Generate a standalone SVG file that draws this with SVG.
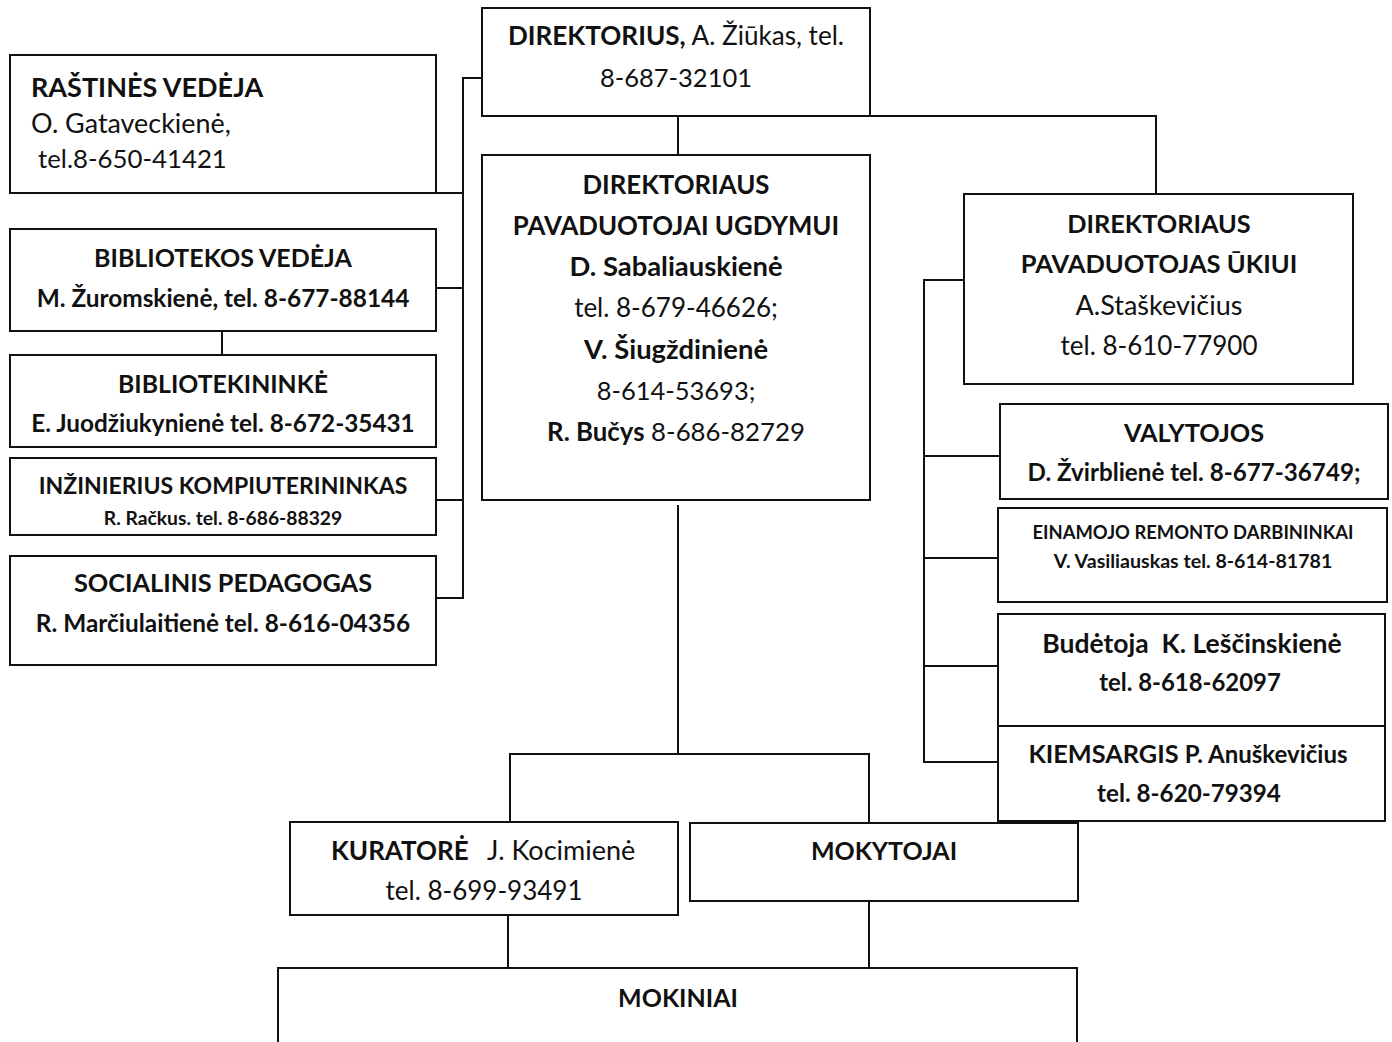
<svg xmlns="http://www.w3.org/2000/svg" width="1392" height="1042" viewBox="0 0 1392 1042">
<style>
text{font-family:Lato,"Liberation Sans",sans-serif;fill:#111;font-size:25px;}
.b{font-weight:bold;}
.c{text-anchor:middle;}
.box{fill:#fff;stroke:#111;stroke-width:2;}
.ln{fill:none;stroke:#111;stroke-width:2;}
</style>
<rect width="1392" height="1042" fill="#fff"/>
<g id="connectors">
<path class="ln" d="M482,78 H463 V598 H436"/>
<path class="ln" d="M436,193 H463 M436,288 H463 M436,500 H463"/>
<path class="ln" d="M222,331 V355"/>
<path class="ln" d="M678,116 V155"/>
<path class="ln" d="M870,116 H1156 V194"/>
<path class="ln" d="M964,280 H924 V762 H998"/>
<path class="ln" d="M924,456 H1000 M924,558 H998 M924,666 H998"/>
<path class="ln" d="M678,505 V754"/>
<path class="ln" d="M510,822 V754 H869 V823"/>
<path class="ln" d="M508,915 V968 M869,901 V968"/>
</g>
<g id="rastines">
<rect class="box" x="10" y="55" width="426" height="138"/>
<text class="b" x="31" y="97" style="font-size:27px">RAŠTINĖS VEDĖJA</text>
<text x="31" y="133" style="font-size:26.9px">O. Gataveckienė,</text>
<text x="38" y="168" style="font-size:25.8px">tel.8-650-41421</text>
</g>
<g id="bibliotekos">
<rect class="box" x="10" y="229" width="426" height="102"/>
<text class="b c" x="223" y="267">BIBLIOTEKOS VEDĖJA</text>
<text class="b c" x="223" y="307" style="font-size:24.4px">M. Žuromskienė, tel. 8-677-88144</text>
</g>
<g id="bibliotekininke">
<rect class="box" x="10" y="355" width="426" height="92"/>
<text class="b c" x="223" y="393" style="font-size:24.8px">BIBLIOTEKININKĖ</text>
<text class="b c" x="223" y="432" style="font-size:24.3px">E. Juodžiukynienė tel. 8-672-35431</text>
</g>
<g id="inzinierius">
<rect class="box" x="10" y="458" width="426" height="77"/>
<text class="b c" x="223" y="494" style="font-size:23px">INŽINIERIUS KOMPIUTERININKAS</text>
<text class="b c" x="223" y="525" style="font-size:19.3px">R. Račkus. tel. 8-686-88329</text>
</g>
<g id="socialinis">
<rect class="box" x="10" y="556" width="426" height="109"/>
<text class="b c" x="223" y="592" style="font-size:25.3px">SOCIALINIS PEDAGOGAS</text>
<text class="b c" x="223" y="632" style="font-size:24.4px">R. Marčiulaitienė tel. 8-616-04356</text>
</g>
<g id="direktorius">
<rect class="box" x="482" y="8" width="388" height="108"/>
<text class="c" x="676" y="45" style="font-size:26.1px"><tspan class="b">DIREKTORIUS,</tspan> A. Žiūkas, tel.</text>
<text class="c" x="676" y="87" style="font-size:25.5px">8-687-32101</text>
</g>
<g id="pavaduotojai-ugdymui">
<rect class="box" x="482" y="155" width="388" height="345"/>
<text class="b c" x="676" y="194" style="font-size:25.8px">DIREKTORIAUS</text>
<text class="b c" x="676" y="235" style="font-size:25.8px">PAVADUOTOJAI UGDYMUI</text>
<text class="b c" x="676" y="276" style="font-size:27.4px">D. Sabaliauskienė</text>
<text class="c" x="676" y="317" style="font-size:26px">tel. 8-679-46626;</text>
<text class="b c" x="676" y="359" style="font-size:27.4px">V. Šiugždinienė</text>
<text class="c" x="676" y="400" style="font-size:25.5px">8-614-53693;</text>
<text class="c" x="676" y="441" style="font-size:25.8px"><tspan class="b">R. Bučys</tspan> 8-686-82729</text>
</g>
<g id="pavaduotojas-ukiui">
<rect class="box" x="964" y="194" width="389" height="190"/>
<text class="b c" x="1159" y="233" style="font-size:25.3px">DIREKTORIAUS</text>
<text class="b c" x="1159" y="273" style="font-size:25.5px">PAVADUOTOJAS ŪKIUI</text>
<text class="c" x="1159" y="315" style="font-size:27px">A.Staškevičius</text>
<text class="c" x="1159" y="355" style="font-size:26px">tel. 8-610-77900</text>
</g>
<g id="valytojos">
<rect class="box" x="1000" y="404" width="388" height="95"/>
<text class="b c" x="1194" y="442" style="font-size:25.3px">VALYTOJOS</text>
<text class="b c" x="1194" y="481" style="font-size:24.2px">D. Žvirblienė tel. 8-677-36749;</text>
</g>
<g id="einamojo-remonto">
<rect class="box" x="998" y="508" width="389" height="94"/>
<text class="b c" x="1193" y="539" style="font-size:18.4px">EINAMOJO REMONTO DARBININKAI</text>
<text class="b c" x="1193" y="568" style="font-size:19.6px">V. Vasiliauskas tel. 8-614-81781</text>
</g>
<g id="budetoja">
<rect class="box" x="998" y="614" width="387" height="112"/>
<text class="b c" x="1192" y="653" style="font-size:26.5px" xml:space="preserve">Budėtoja  K. Leščinskienė</text>
<text class="b c" x="1190" y="691" style="font-size:23.9px">tel. 8-618-62097</text>
</g>
<g id="kiemsargis">
<rect class="box" x="998" y="726" width="387" height="95"/>
<text class="b c" x="1188" y="763" style="font-size:25.3px">KIEMSARGIS <tspan style="font-size:24px">P. Anuškevičius</tspan></text>
<text class="b c" x="1189" y="802" style="font-size:24.2px">tel. 8-620-79394</text>
</g>
<g id="kuratore">
<rect class="box" x="290" y="822" width="388" height="93"/>
<text class="b" x="331" y="860" style="font-size:26px">KURATORĖ</text>
<text x="487" y="860" style="font-size:27px">J. Kocimienė</text>
<text class="c" x="484" y="900" style="font-size:26px">tel. 8-699-93491</text>
</g>
<g id="mokytojai">
<rect class="box" x="690" y="823" width="388" height="78"/>
<text class="b c" x="884" y="860">MOKYTOJAI</text>
</g>
<g id="mokiniai">
<rect class="box" x="278" y="968" width="799" height="90"/>
<text class="b c" x="678" y="1007">MOKINIAI</text>
</g>
</svg>
